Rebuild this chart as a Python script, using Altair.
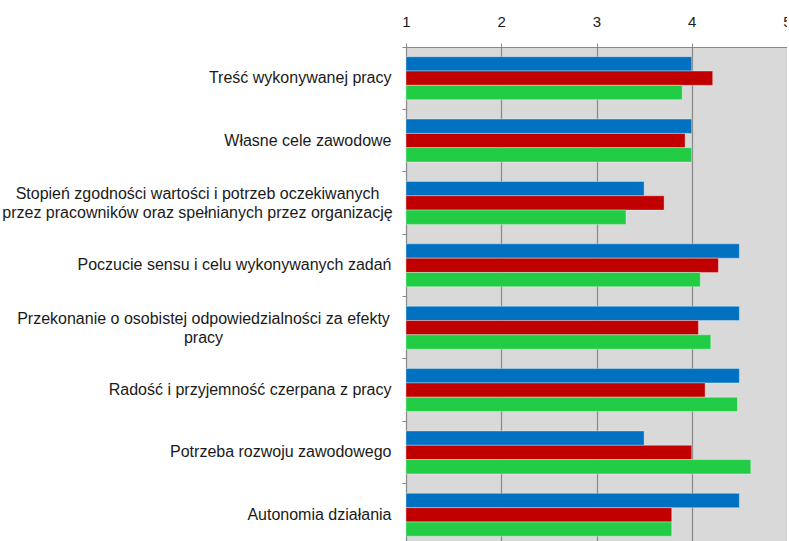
import altair as alt
import pandas as pd

# Czynniki motywacyjne (kolejność od góry wykresu)
czynniki = [
    "Treść wykonywanej pracy",
    "Własne cele zawodowe",
    "Stopień zgodności wartości i potrzeb oczekiwanych\nprzez pracowników oraz spełnianych przez organizację",
    "Poczucie sensu i celu wykonywanych zadań",
    "Przekonanie o osobistej odpowiedzialności za efekty\npracy",
    "Radość i przyjemność czerpana  z pracy",
    "Potrzeba rozwoju zawodowego",
    "Autonomia działania",
]

serie = ["Grupa A", "Grupa B", "Grupa C"]
kolory = ["#0070C0", "#C00000", "#22CC44"]

# Średnie oceny (skala 1–5)
grupa_a = [4.00, 4.00, 3.50, 4.50, 4.50, 4.50, 3.50, 4.50]
grupa_b = [4.22, 3.93, 3.71, 4.28, 4.07, 4.14, 4.00, 3.79]
grupa_c = [3.90, 4.00, 3.31, 4.09, 4.20, 4.48, 4.62, 3.79]

wartosci = {"Grupa A": grupa_a, "Grupa B": grupa_b, "Grupa C": grupa_c}

rows = []
for s in serie:
    for c, v in zip(czynniki, wartosci[s]):
        rows.append({"czynnik": c, "seria": s, "ocena": v})
df = pd.DataFrame(rows)

# etykiety dwuwierszowe: wiersze wyśrodkowane względem siebie
multi = "indexof(datum.value, '\\n') >= 0"
is_stopien = "indexof(datum.value, 'Stopień') >= 0"
is_przek = "indexof(datum.value, 'Przekonanie') >= 0"

bars = alt.Chart(df).mark_bar(
    stroke="white", strokeOpacity=0.35, strokeWidth=1
).encode(
    x=alt.X(
        "ocena:Q",
        scale=alt.Scale(domain=[1, 5], nice=False, zero=False),
        axis=alt.Axis(
            orient="top",
            values=[1, 2, 3, 4, 5],
            format="d",
            title=None,
            tickSize=4,
            tickColor="#888888",
            domainColor="#888888",
            grid=True,
            gridColor="#888888",
            gridWidth=1.2,
            labelFont="Liberation Sans",
            labelFontSize=15,
            labelColor="#1a1a1a",
            labelPadding=14,
            labelFlush=False,
        ),
    ),
    x2=alt.datum(1),
    y=alt.Y(
        "czynnik:N",
        sort=czynniki,
        scale=alt.Scale(paddingInner=0, paddingOuter=0),
        axis=alt.Axis(
            title=None,
            bandPosition=0,
            tickSize=4,
            tickColor="#888888",
            domainColor="#888888",
            labelExpr="split(datum.label, '\\n')",
            labelFont="Liberation Sans",
            labelFontSize=16,
            labelColor="#1a1a1a",
            labelLineHeight=19,
            labelLimit=500,
            labelAlign={"condition": {"test": multi, "value": "center"}, "value": "right"},
            labelOffset={"condition": {"test": multi, "value": -9}, "value": 0},
            labelPadding={
                "condition": [
                    {"test": is_stopien, "value": 205},
                    {"test": is_przek, "value": 199},
                ],
                "value": 11,
            },
        ),
    ),
    yOffset=alt.YOffset(
        "seria:N",
        sort=serie,
        scale=alt.Scale(paddingInner=0, paddingOuter=0.68),
    ),
    color=alt.Color(
        "seria:N",
        sort=serie,
        scale=alt.Scale(domain=serie, range=kolory),
        legend=None,
    ),
)

chart = bars.properties(
    width=381,
    height=499,
    autosize=alt.AutoSizeParams(type="none"),
    padding={"left": 406, "top": 47, "right": 0, "bottom": 0},
    background="white",
).configure_view(
    fill="#D9D9D9",
    stroke="#888888",
    strokeWidth=1,
)

chart.save("out.html", embed_options={"renderer": "svg", "actions": False})
